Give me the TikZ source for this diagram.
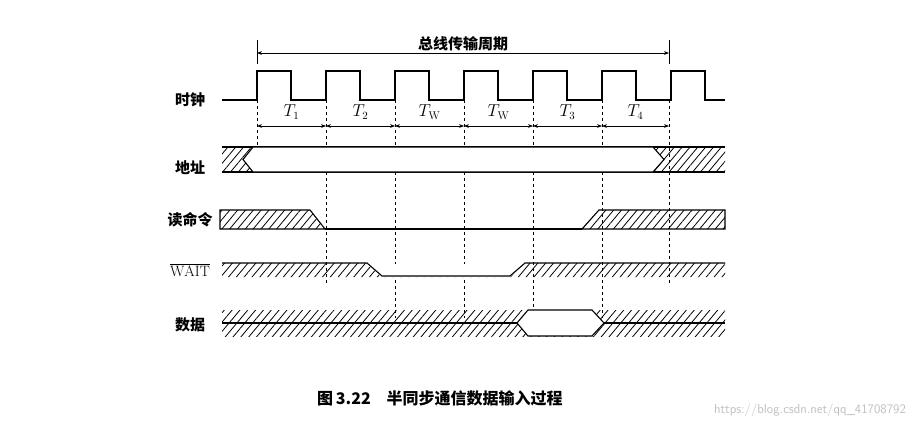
\documentclass[tikz,border=0pt]{standalone}
\usepackage{fontspec}
\newfontfamily\cjk{Noto Sans CJK SC}
\usetikzlibrary{patterns.meta,arrows.meta}
\tikzset{
  wave/.style={line width=1.1pt},
  hatch/.style={pattern={Lines[angle=50,distance=6pt,line width=0.8pt]}},
  guide/.style={dashed,line width=0.7pt},
  dim/.style={{Stealth[length=5pt]}-{Stealth[length=5pt]},line width=0.7pt},
  sig/.style={font=\cjk\bfseries\fontsize{15}{18}\selectfont}
}
\begin{document}
\begin{tikzpicture}[x=1pt,y=-1pt]
        \useasboundingbox (0,0) rectangle (924,428);

        % Bus cycle
        \draw[line width=0.8pt] (257,40) -- (257,64);
        \draw[line width=0.8pt] (669,40) -- (669,64);
        \coordinate (cs) at (257,53);
        \coordinate (ce) at (669,53);
        \draw[dim] (cs) -- (ce);
        \node[sig,fill=white,inner sep=1pt] (cycle) at (463,44) {总线传输周期};

        % Clock
        \node[sig] (clk) at (190,100) {时钟};
        \draw[wave] (222,100) foreach \x in {257,326,395,464,533,602,671} {
          -- (\x,100) -- (\x,71) -- (\x+34,71) -- (\x+34,100)} -- (725,100);

        % Dashed guides
        \foreach \x/\e in {257/147,326/283,395/318,464/318,533/310,602/318,669/283}
          \draw[guide] (\x,100) -- (\x,\e);

        % T1 ... T4
        \foreach \a/\b/\t in {257/326/T_1,326/395/T_2,395/464/T_\mathrm{W},464/533/T_\mathrm{W},533/602/T_3,602/669/T_4} {
          \coordinate (ta) at (\a,126);
          \coordinate (tb) at (\b,126);
          \draw[dim] (ta) -- (tb);
          \node[font=\fontsize{16}{18}\selectfont] at ({(\a+\b)/2},112) {$\t$};
        }

        % Address
        \node[sig] (adr) at (190,168) {地址};
        \fill[hatch] (222,147) rectangle (725,172);
        \draw[wave] (222,147) -- (725,147);
        \draw[wave] (222,172) -- (725,172);
        \draw[wave,fill=white] (243,159.5) -- (253,147) -- (653,147) -- (664,159.5) -- (653,172) -- (253,172) -- cycle;

        % Read command
        \node[sig] (rd) at (190,220) {读命令};
        \draw[wave,hatch] (220,210) -- (310,210) -- (325,229) -- (220,229) -- cycle;
        \draw[wave] (325,229) -- (582,229);
        \draw[wave,hatch] (582,229) -- (599,210) -- (725,210) -- (725,229) -- cycle;

        % WAIT
        \node[font=\fontsize{15}{18}\selectfont] (wt) at (190,270) {$\overline{\mathrm{WAIT}}$};
        \fill[hatch] (222,263) -- (367,263) -- (382,276) -- (510,276) -- (525,263) -- (725,263) -- (725,277) -- (222,277) -- cycle;
        \fill[white] (367,264) -- (382,277) -- (510,277) -- (525,264) -- cycle;
        \draw[wave] (222,263) -- (367,263) -- (382,276) -- (510,276) -- (525,263) -- (725,263);

        % Data
        \node[sig] (dat) at (190,325) {数据};
        \fill[hatch] (222,310) rectangle (725,336);
        \draw[wave] (222,323) -- (725,323);
        \draw[wave,fill=white] (517,323) -- (528,310) -- (592,310) -- (604,323) -- (592,336) -- (528,336) -- cycle;

        % Caption
        \node[font=\cjk\bfseries\fontsize{16}{18}\selectfont] (cap) at (440,398) {图\,3.22\quad 半同步通信数据输入过程};
        \node[text=gray!50,font=\sffamily\fontsize{13}{15}\selectfont] (url) at (810,410) {https://blog.csdn.net/qq\_41708792};
\end{tikzpicture}
\end{document}
